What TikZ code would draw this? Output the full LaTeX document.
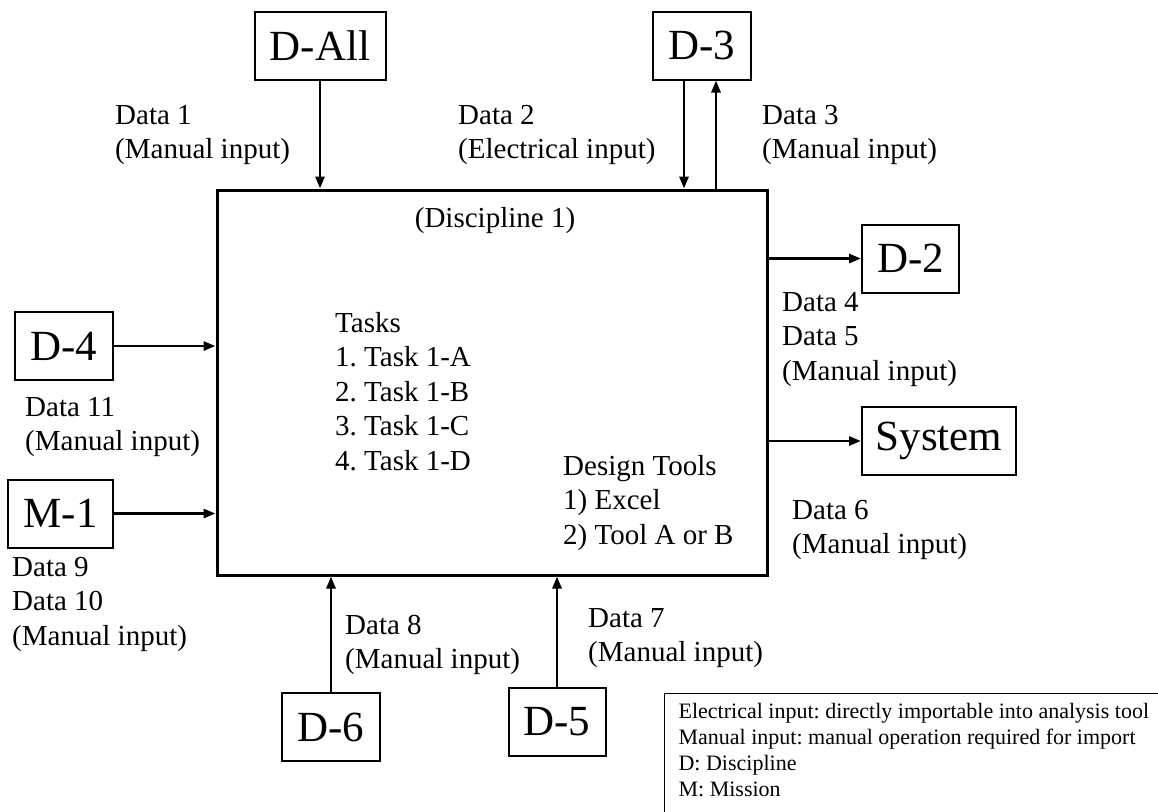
\documentclass[tikz,border=0pt]{standalone}
\usepackage{fontspec}
\setmainfont{Liberation Serif}
\usetikzlibrary{arrows.meta}
\frenchspacing

\begin{document}
\begin{tikzpicture}[x=1pt, y=-1pt, >={Triangle[length=12pt,width=9pt]},
    txt/.style={font=\fontsize{29}{34.5}\selectfont, align=left, anchor=north west, inner sep=0pt},
    dbox/.style={draw, line width=2pt, font=\fontsize{43}{50}\selectfont, minimum height=68pt, inner sep=0pt},
    flow/.style={->, line width=2.8pt}]
  \useasboundingbox (0,0) rectangle (1158,811);
  \clip (0,0) rectangle (1158,811);
  % discipline block in the middle
  \node[draw, line width=3pt, minimum width=550pt, minimum height=385pt] (main) at (492,382.5) {};
  \node[font=\fontsize{29}{34.5}\selectfont, anchor=base] (disc) at (495,227) {(Discipline 1)};
  \node[txt] (tasks) at (335,312) {Tasks\\1. Task 1-A\\2. Task 1-B\\3. Task 1-C\\4. Task 1-D};
  \node[txt] (tools) at (563,455) {Design Tools\\1) Excel\\2) Tool A or B};
  % neighbouring disciplines, mission and system
  \node[dbox, minimum width=131pt] (dall) at (320,45.5) {D-All};
  \node[dbox, minimum width=98pt] (d3) at (702,45.5) {D-3};
  \node[dbox, minimum width=97pt] (d2) at (910.5,258.5) {D-2};
  \node[dbox, minimum width=154pt] (sys) at (939,441) {System};
  \node[dbox, minimum width=98pt] (d4) at (64,346) {D-4};
  \node[dbox, minimum width=105pt] (m1) at (60.5,513.5) {M-1};
  \node[dbox, minimum width=98pt] (d6) at (331,727) {D-6};
  \node[dbox, minimum width=97pt] (d5) at (557,722) {D-5};
  % data flows
  \draw[flow] (dall) -- (dall |- main.north);
  \draw[flow] ([xshift=-18pt]d3.south) -- ([xshift=-18pt]d3.south |- main.north);
  \draw[flow] ([xshift=14pt]d3.south |- main.north) -- ([xshift=14pt]d3.south);
  \draw[flow] (main.east |- d2) -- (d2);
  \draw[flow] (main.east |- sys) -- (sys);
  \draw[flow] (d4) -- (d4 -| main.west);
  \draw[flow] (m1) -- (m1 -| main.west);
  \draw[flow] (d6) -- (d6 |- main.south);
  \draw[flow] (d5) -- (d5 |- main.south);
  % flow labels
  \node[txt] (l1) at (115,105) {Data 1\\(Manual input)};
  \node[txt] (l2) at (458,105) {Data 2\\(Electrical input)};
  \node[txt] (l3) at (762,105) {Data 3\\(Manual input)};
  \node[txt] (l45) at (782,292) {Data 4\\Data 5\\(Manual input)};
  \node[txt] (l6) at (792,500) {Data 6\\(Manual input)};
  \node[txt] (l7) at (588,608) {Data 7\\(Manual input)};
  \node[txt] (l8) at (345,615) {Data 8\\(Manual input)};
  \node[txt] (l910) at (12,557) {Data 9\\Data 10\\(Manual input)};
  \node[txt] (l11) at (25,397) {Data 11\\(Manual input)};
  % key, runs off the lower right corner
  \node[draw, line width=1.2pt, anchor=north west, align=left, inner xsep=14pt, inner ysep=10pt,
        text depth=25pt, font=\fontsize{22}{26}\selectfont] (key) at (664,693)
    {Electrical input: directly importable into analysis tool\\
     Manual input: manual operation required for import\\
     D: Discipline\\
     M: Mission};
\end{tikzpicture}
\end{document}
